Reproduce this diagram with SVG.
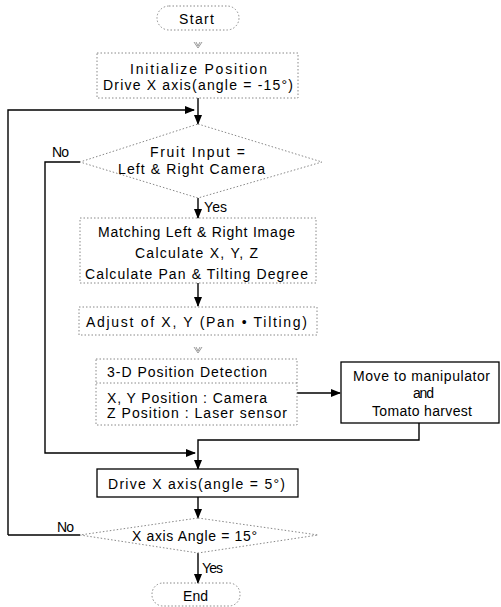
<svg xmlns="http://www.w3.org/2000/svg" width="501" height="607" viewBox="0 0 501 607">
<defs>
<marker id="ah" markerWidth="10" markerHeight="8" refX="9" refY="4" orient="auto" markerUnits="userSpaceOnUse">
<path d="M0,0 L10,4 L0,8 Z" fill="#000"/>
</marker>
<style>
.dot{fill:none;stroke:#888;stroke-width:1;stroke-dasharray:1.5 2}
.solid{fill:#fff;stroke:#000;stroke-width:1.3}
.ln{fill:none;stroke:#000;stroke-width:1.4}
.t{font-family:"Liberation Sans",Arial,sans-serif;font-size:14px;fill:#000}
.faint{fill:none;stroke:#999;stroke-width:1}
</style>
</defs>
<rect width="501" height="607" fill="#fff"/>

<g id="connectors">
<line class="ln" x1="198" y1="98" x2="198" y2="124" marker-end="url(#ah)"/>
<polyline class="ln" points="8,535 8,110 194,110" marker-end="url(#ah)"/>
<polyline class="ln" points="80,162 45,162 45,453 195,453" marker-end="url(#ah)"/>
<line class="ln" x1="198" y1="198" x2="198" y2="218" marker-end="url(#ah)"/>
<line class="ln" x1="198" y1="283" x2="198" y2="306" marker-end="url(#ah)"/>
<line class="ln" x1="297" y1="393" x2="340" y2="393" marker-end="url(#ah)"/>
<polyline class="ln" points="419,423 419,440 198,440 198,469" marker-end="url(#ah)"/>
<line class="ln" x1="198" y1="497" x2="198" y2="518" marker-end="url(#ah)"/>
<line class="ln" x1="8" y1="535" x2="80" y2="535"/>
<line class="ln" x1="198" y1="553" x2="198" y2="583" marker-end="url(#ah)"/>
<path class="faint" d="M194,42 L198,48 L202,42 M196,42 L198,46 L200,42"/>
<path class="faint" d="M194,347 L198,353 L202,347 M196,347 L198,351 L200,347"/>
<text class="t" x="52" y="157" textLength="17">No</text>
<text class="t" x="204" y="212" textLength="23">Yes</text>
<text class="t" x="57" y="532" textLength="17">No</text>
<text class="t" x="202" y="573" textLength="21">Yes</text>
</g>

<g id="start">
<rect class="dot" x="157" y="6" width="82" height="24" rx="12"/>
<text class="t" x="179" y="24" textLength="35">Start</text>
</g>

<g id="init">
<rect class="dot" x="97" y="53" width="201" height="45"/>
<text class="t" x="130" y="74" textLength="137">Initialize Position</text>
<text class="t" x="103" y="90" textLength="190">Drive X axis(angle = -15°)</text>
</g>

<g id="fruit">
<polygon class="dot" points="198,124 322,162 198,198 80,162"/>
<text class="t" x="150" y="157" textLength="95">Fruit Input =</text>
<text class="t" x="118" y="174" textLength="147">Left &amp; Right Camera</text>
</g>

<g id="matching">
<rect class="dot" x="80" y="218" width="236" height="65"/>
<text class="t" x="98" y="237" textLength="197">Matching Left &amp; Right Image</text>
<text class="t" x="135" y="258" textLength="123">Calculate X, Y, Z</text>
<text class="t" x="85" y="279" textLength="223">Calculate Pan &amp; Tilting Degree</text>
</g>

<g id="adjust">
<rect class="dot" x="79" y="307" width="238" height="28"/>
<text class="t" x="86" y="327" textLength="221">Adjust of X, Y (Pan • Tilting)</text>
</g>

<g id="detect">
<rect class="dot" x="96" y="359" width="201" height="66"/>
<line class="dot" x1="96" y1="383" x2="297" y2="383"/>
<text class="t" x="107" y="377" textLength="160">3-D Position Detection</text>
<text class="t" x="107" y="403" textLength="160">X, Y Position : Camera</text>
<text class="t" x="107" y="418" textLength="180">Z Position : Laser sensor</text>
</g>

<g id="move">
<rect class="solid" x="341" y="362" width="158" height="61"/>
<text class="t" x="353" y="381" textLength="137">Move to manipulator</text>
<text class="t" x="413" y="398" textLength="21">and</text>
<text class="t" x="372" y="416" textLength="100">Tomato harvest</text>
</g>

<g id="drive">
<rect class="solid" x="97" y="469" width="201" height="28"/>
<text class="t" x="108" y="489" textLength="177">Drive X axis(angle = 5°)</text>
</g>

<g id="check">
<polygon class="dot" points="198,518 318,535 198,553 80,535"/>
<text class="t" x="132" y="541" textLength="125">X axis Angle = 15°</text>
</g>

<g id="end">
<rect class="dot" x="152" y="583" width="88" height="23" rx="11"/>
<text class="t" x="183" y="601" textLength="25">End</text>
</g>
</svg>
